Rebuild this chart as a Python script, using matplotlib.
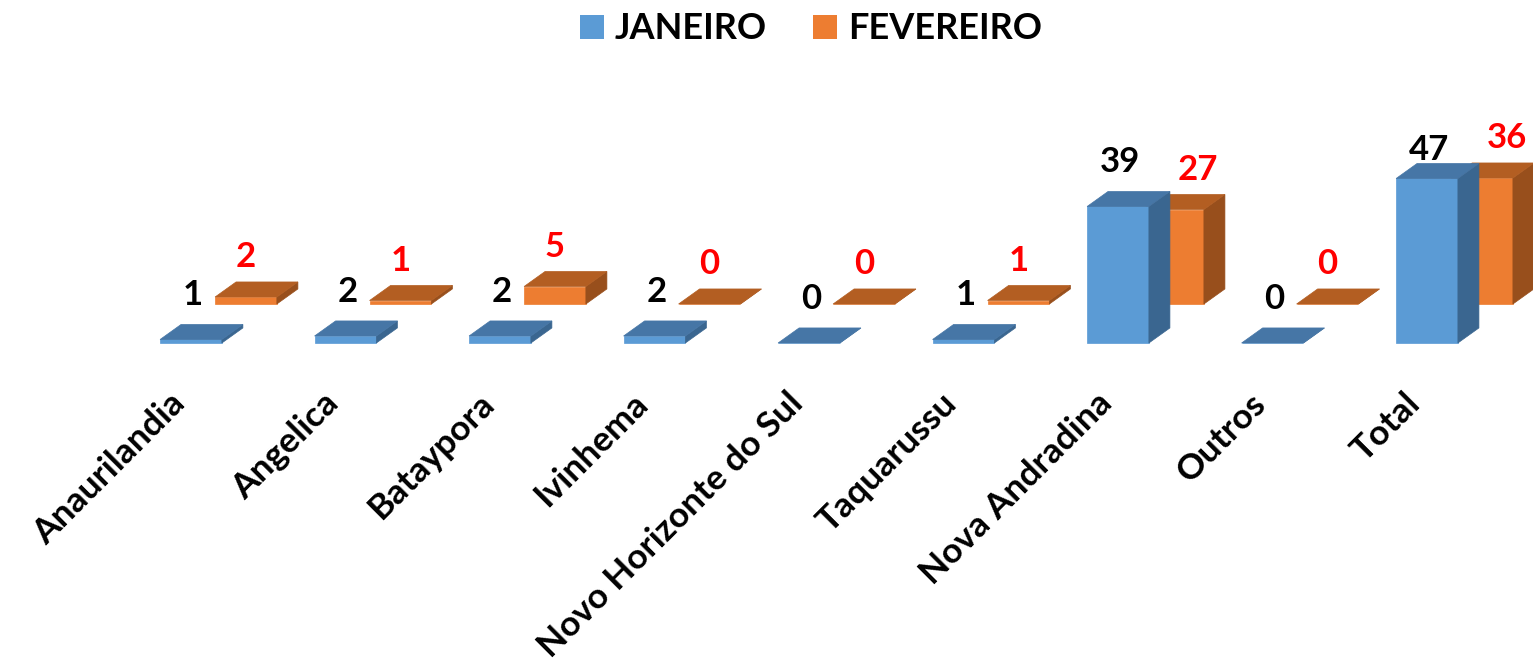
import matplotlib.pyplot as plt
from matplotlib.patches import Polygon, Patch

cidades = ['Anaurilandia', 'Angelica', 'Bataypora', 'Ivinhema', 'Novo Horizonte do Sul',
           'Taquarussu', 'Nova Andradina', 'Outros', 'Total']
janeiro = [1, 2, 2, 2, 0, 1, 39, 0, 47]
fevereiro = [2, 1, 5, 0, 0, 1, 27, 0, 36]

# cores (frente, topo, lateral)
azul = ('#5B9BD5', '#4676A6', '#3A6690')
laranja = ('#ED7D31', '#B35E22', '#984F1C')

# geometria do "3D"
largura = 0.40
prof_x, prof_y = 0.136, 4.3      # profundidade de cada barra
serie_x, serie_y = 0.356, 11.14  # deslocamento da segunda serie (para tras)


def barra3d(ax, x, v, ox, oy, cores):
    xl = x - largura / 2 + ox
    xr = x + largura / 2 + ox
    base = oy
    topo = oy + v
    frente = [(xl, base), (xr, base), (xr, topo), (xl, topo)]
    cima = [(xl, topo), (xr, topo), (xr + prof_x, topo + prof_y), (xl + prof_x, topo + prof_y)]
    lado = [(xr, base), (xr + prof_x, base + prof_y), (xr + prof_x, topo + prof_y), (xr, topo)]
    ax.add_patch(Polygon(frente, closed=True, facecolor=cores[0], edgecolor=cores[0], lw=0.5))
    ax.add_patch(Polygon(lado, closed=True, facecolor=cores[2], edgecolor=cores[2], lw=0.5))
    ax.add_patch(Polygon(cima, closed=True, facecolor=cores[1], edgecolor=cores[1], lw=0.5))


fig = plt.figure(figsize=(15.33, 6.68), dpi=100)
ax = fig.add_axes([0, 0, 1, 1])
ax.set_xlim(-1.236, 8.686)
ax.set_ylim(-92.86, 98.0)
ax.axis('off')

fonte = 'Lato'

# serie de tras primeiro (fevereiro), depois janeiro na frente
for i, v in enumerate(fevereiro):
    barra3d(ax, i, v, serie_x, serie_y, laranja)
for i, v in enumerate(janeiro):
    barra3d(ax, i, v, 0, 0, azul)

# rotulos de dados (limitados ao topo da area do grafico, como no Excel)
for i, v in enumerate(janeiro):
    ax.text(i + 0.013, min(v + prof_y + 8.3, 55), str(v), ha='center', va='center',
            fontsize=25, fontweight='bold', color='black', family=fonte)
for i, v in enumerate(fevereiro):
    desloc = 0.16 if v > 20 else 0
    ax.text(i + serie_x + desloc, serie_y + v + prof_y + 7.0, str(v), ha='center', va='center',
            fontsize=25, fontweight='bold', color='red', family=fonte)

for i, nome in enumerate(cidades):
    ax.text(i - 0.075, -15.8, nome, rotation=45, rotation_mode='anchor',
            ha='right', va='center', fontsize=25.5, fontweight='bold', family=fonte)

handles = [Patch(facecolor=azul[0]), Patch(facecolor=laranja[0])]
fig.legend(handles, ['JANEIRO', 'FEVEREIRO'], loc='upper center', ncol=2, frameon=False,
           bbox_to_anchor=(0.529, 1.03), prop={'family': fonte, 'weight': 'bold', 'size': 26},
           handlelength=0.65, handleheight=0.65, handletextpad=0.3, columnspacing=1.3)

fig.savefig('out.png', dpi=100)
